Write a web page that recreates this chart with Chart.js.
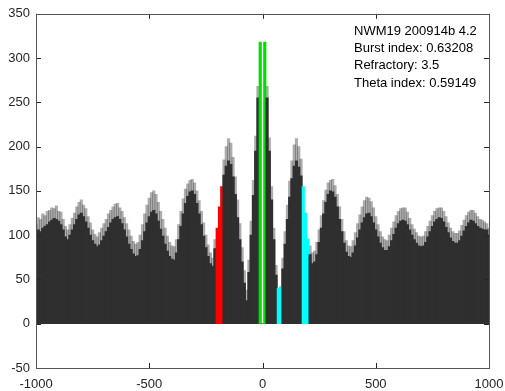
<!DOCTYPE html>
<html>
<head>
<meta charset="utf-8">
<script src="https://cdn.jsdelivr.net/npm/chart.js@4/dist/chart.umd.min.js"></script>
<style>
  html, body { margin: 0; padding: 0; background: #fff; }
  canvas { display: block; }
</style>
</head>
<body>
<canvas id="acg" width="505" height="391"></canvas>
<script>
/* autocorrelogram, 10 ms bins from -1000 to 1000 */
const binWidth = 10;

// dark body of the histogram
const body = [
  100,106,104,108,110,112,115,117,119,118, 116,112,106,98,95,100,106,112,118,123,
  125,121,115,108,100,94,90,87,89,94, 99,104,109,114,118,120,121,118,113,106,
  98,90,84,79,76,77,84,94,104,114, 121,126,128,124,116,107,99,90,82,76,
  73,72,80,95,110,124,136,144,149,150, 146,136,124,112,99,86,76,68,65,85,
  108,132,155,168,178,184,180,166,146,120, 95,70,46,26,58,100,145,195,255,318,
  0,
  318,255,195,140,95,55,40,42,62,90, 118,143,164,178,184,177,167,155,125,96,
  78,68,70,78,92,108,124,137,146,150, 149,143,132,118,104,91,81,76,75,80,
  88,97,106,114,120,124,125,121,114,106, 98,91,86,83,83,87,94,101,108,113,
  116,117,116,112,106,100,95,91,88,87, 88,92,98,104,110,115,118,120,119,115,
  109,103,97,93,91,91,94,99,105,110, 114,117,116,113,110,108,107,106,106,100
];

// light grey spread of the bin tops
const spread = [
  112,120,118,124,122,127,128,131,130,133, 127,126,118,110,106,112,119,125,132,137,
  140,134,130,121,114,106,101,98,103,108, 113,118,124,128,132,135,136,131,127,120,
  113,106,99,93,90,92,100,112,124,134, 142,148,150,146,137,127,118,108,99,92,
  88,87,95,112,127,141,152,158,162,163, 159,150,139,127,114,100,89,80,74,95,
  118,142,165,185,200,209,204,188,166,140, 113,86,60,38,72,116,162,212,268,318,
  0,
  318,268,210,155,108,66,51,50,74,104, 134,161,184,202,209,200,186,165,135,106,
  88,80,82,92,106,122,139,151,159,162, 163,156,146,132,118,104,94,88,87,94,
  103,113,123,132,139,143,142,138,131,121, 112,104,98,95,94,100,108,115,122,127,
  130,131,131,126,119,112,107,103,99,98, 99,104,110,116,122,127,130,131,131,127,
  121,114,108,104,102,102,105,111,117,122, 126,128,128,125,121,118,117,115,113,108
];

// highlighted bins (lag in ms)
const redLags = [-200, -190, -180];
const greenLags = [-10, 10];
const cyanLags = [70, 80, 180, 190, 200];

const xTicks = [-1000, -500, 0, 500, 1000];
const yTicks = [-50, 0, 50, 100, 150, 200, 250, 300, 350];

const infoLines = [
  'NWM19 200914b 4.2',
  'Burst index: 0.63208',
  'Refractory: 3.5',
  'Theta index: 0.59149'
];

const lags = body.map((_, i) => -1000 + i * binWidth);
const toPoints = arr => arr.map((v, i) => ({ x: lags[i], y: v }));

function binColor(lag) {
  if (redLags.includes(lag)) return '#ff0000';
  if (greenLags.includes(lag)) return '#00e000';
  if (cyanLags.includes(lag)) return '#00ffff';
  return null;
}

const FONT = '"Liberation Sans", Arial, sans-serif';
const AXIS = '#262626';

// MATLAB style inward ticks on all four sides
const boxTicks = {
  id: 'boxTicks',
  afterDraw(chart) {
    const { ctx, chartArea: a, scales } = chart;
    const len = 5;
    ctx.save();
    ctx.strokeStyle = AXIS;
    ctx.lineWidth = 1;
    ctx.beginPath();
    xTicks.forEach(t => {
      const px = Math.round(scales.x.getPixelForValue(t)) + 0.5;
      ctx.moveTo(px, a.bottom); ctx.lineTo(px, a.bottom - len);
      ctx.moveTo(px, a.top); ctx.lineTo(px, a.top + len);
    });
    yTicks.forEach(t => {
      const py = Math.round(scales.y.getPixelForValue(t)) + 0.5;
      ctx.moveTo(a.left, py); ctx.lineTo(a.left + len, py);
      ctx.moveTo(a.right, py); ctx.lineTo(a.right - len, py);
    });
    ctx.stroke();
    ctx.strokeStyle = '#555';
    ctx.strokeRect(Math.round(a.left) + 0.5, Math.round(a.top) + 0.5,
      Math.round(a.right - a.left), Math.round(a.bottom - a.top));
    // info text
    ctx.fillStyle = '#000';
    ctx.font = '13px ' + FONT;
    ctx.textBaseline = 'middle';
    infoLines.forEach((s, i) => ctx.fillText(s, 354, 31 + i * 17.4));
    ctx.restore();
  }
};

new Chart(document.getElementById('acg'), {
  type: 'bar',
  data: {
    datasets: [
      {
        label: 'body',
        data: toPoints(body),
        backgroundColor: c => binColor(lags[c.dataIndex]) || '#2f2f2f',
        grouped: false,
        barThickness: 2.5,
        order: 1
      },
      {
        label: 'spread',
        data: toPoints(spread),
        backgroundColor: c => binColor(lags[c.dataIndex]) ? 'rgba(0,0,0,0)' : 'rgba(40,40,40,0.38)',
        grouped: false,
        barThickness: 2.5,
        order: 2
      }
    ]
  },
  options: {
    responsive: false,
    animation: false,
    devicePixelRatio: 1,
    layout: { padding: { top: 12, right: 16, left: 0, bottom: 0 } },
    plugins: { legend: { display: false }, tooltip: { enabled: false } },
    scales: {
      x: {
        type: 'linear',
        min: -1000, max: 1000,
        offset: false,
        afterBuildTicks: s => { s.ticks = xTicks.map(v => ({ value: v })); },
        afterFit: s => { s.height = 23; s.paddingLeft = 0; s.paddingRight = 0; },
        grid: { display: false, drawTicks: false, offset: false },
        border: { display: false },
        ticks: { color: AXIS, font: { family: FONT, size: 13 }, padding: 9, maxRotation: 0, autoSkip: false,
          callback: v => String(v) }
      },
      y: {
        min: -50, max: 350,
        afterBuildTicks: s => { s.ticks = yTicks.map(v => ({ value: v })); },
        afterFit: s => { s.width = 36; },
        grid: { display: false, drawTicks: false },
        border: { display: false },
        ticks: { color: AXIS, font: { family: FONT, size: 13 }, padding: 6, callback: v => String(v) }
      }
    }
  },
  plugins: [boxTicks]
});
</script>
</body>
</html>
